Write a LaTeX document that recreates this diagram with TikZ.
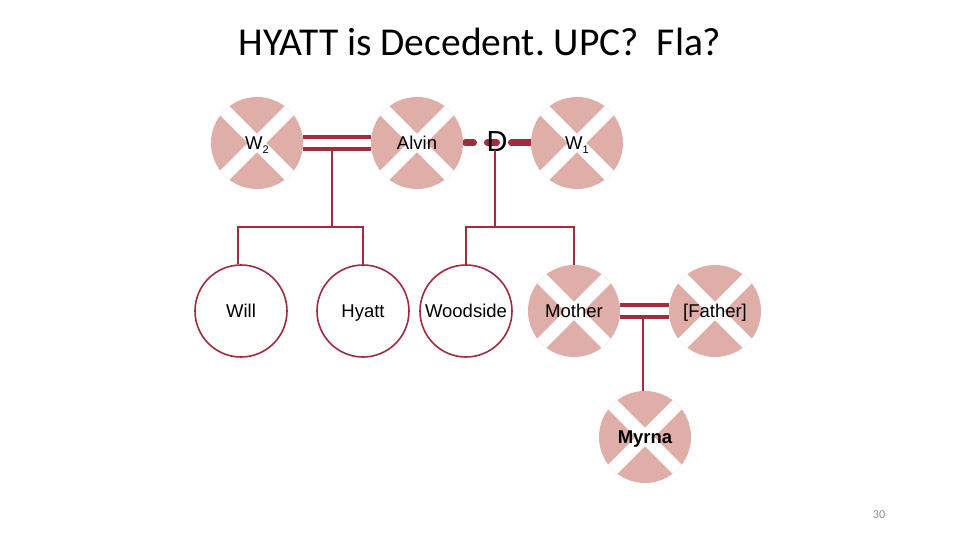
\documentclass[tikz,border=0pt]{standalone}
\usepackage{fontspec}
\usetikzlibrary{backgrounds}
\setmainfont{Liberation Sans}
\newfontfamily\titlefont{Carlito}
\definecolor{deadpink}{HTML}{DFAEA9}
\definecolor{linered}{HTML}{A02C3C}
\definecolor{pagegray}{HTML}{8C8C8C}
\frenchspacing
\newcommand{\lowsub}[1]{\raisebox{-4pt}{\fontsize{11}{12}\selectfont #1}}
\begin{document}
\begin{tikzpicture}[x=1pt,y=-1pt,
  person/.style={circle,minimum size=92pt,inner sep=0pt,text height=13.3pt,text depth=0pt,font=\fontsize{18.5}{21}\selectfont},
  alive/.style={person,draw=linered,line width=1.6pt,fill=white},
  dead/.style={person,fill=deadpink,path picture={
      \draw[white,line width=13pt] (path picture bounding box.north west) -- (path picture bounding box.south east);
      \draw[white,line width=13pt] (path picture bounding box.north east) -- (path picture bounding box.south west);}},
  marry/.style={draw=linered,line width=4pt},
  divorce/.style={draw=linered,line width=7pt,line cap=round,dash pattern=on 0pt off 48.5pt on 8pt off 14pt on 9pt off 15pt on 30pt off 200pt},
  kin/.style={draw=linered,line width=1.6pt}]
\useasboundingbox (0,0) rectangle (960,540);
\node[font=\titlefont\fontsize{39.5}{44}\selectfont] (title) at (480,42) {HYATT is Decedent. UPC?\ \ Fla?};
\node[font=\titlefont\fontsize{12}{14}\selectfont,text=pagegray] (page) at (879,515) {30};
% top generation
\node[dead] (w2) at (257,143) {W\lowsub{2}};
\node[dead] (alvin) at (417,143) {Alvin};
\node[dead] (w1) at (577,143) {W\lowsub{1}};
% second generation
\node[alive] (will) at (241,311) {Will};
\node[alive] (hyatt) at (363,311) {Hyatt};
\node[alive] (woodside) at (466,311) {Woodside};
\node[dead] (mother) at (574,311) {Mother};
\node[dead] (father) at (715,311) {[Father]};
\node[dead,font=\bfseries\fontsize{18.5}{21}\selectfont] (myrna) at (645,437) {Myrna};
% marriage W2 - Alvin
\draw[marry] ([yshift=-6pt]w2.east) -- ([yshift=-6pt]alvin.west);
\draw[marry] ([yshift=6pt]w2.east) -- ([yshift=6pt]alvin.west);
\coordinate (m1) at (332,149);
\coordinate (b1) at (332,227);
\draw[kin] (m1) -- (b1);
\draw[kin] (will.north -| 238,0) |- (b1) -| (hyatt.north);
% divorce Alvin - W1
\begin{scope}[on background layer]
\draw[divorce] (alvin.center) -- (w1.center);
\end{scope}
\node[font=\fontsize{29}{32}\selectfont,inner sep=0pt] (D) at (497,142) {D};
\coordinate (m2) at (495,150);
\coordinate (b2) at (495,227);
\draw[kin] (m2) -- (b2);
\draw[kin] (woodside.north) |- (b2) -| (mother.north);
% marriage Mother - Father
\draw[marry] ([yshift=-6pt]mother.east) -- ([yshift=-6pt]father.west);
\draw[marry] ([yshift=6pt]mother.east) -- ([yshift=6pt]father.west);
\coordinate (m3) at (643,317);
\draw[kin] (m3) -- (m3 |- myrna.north);
\end{tikzpicture}
\end{document}
